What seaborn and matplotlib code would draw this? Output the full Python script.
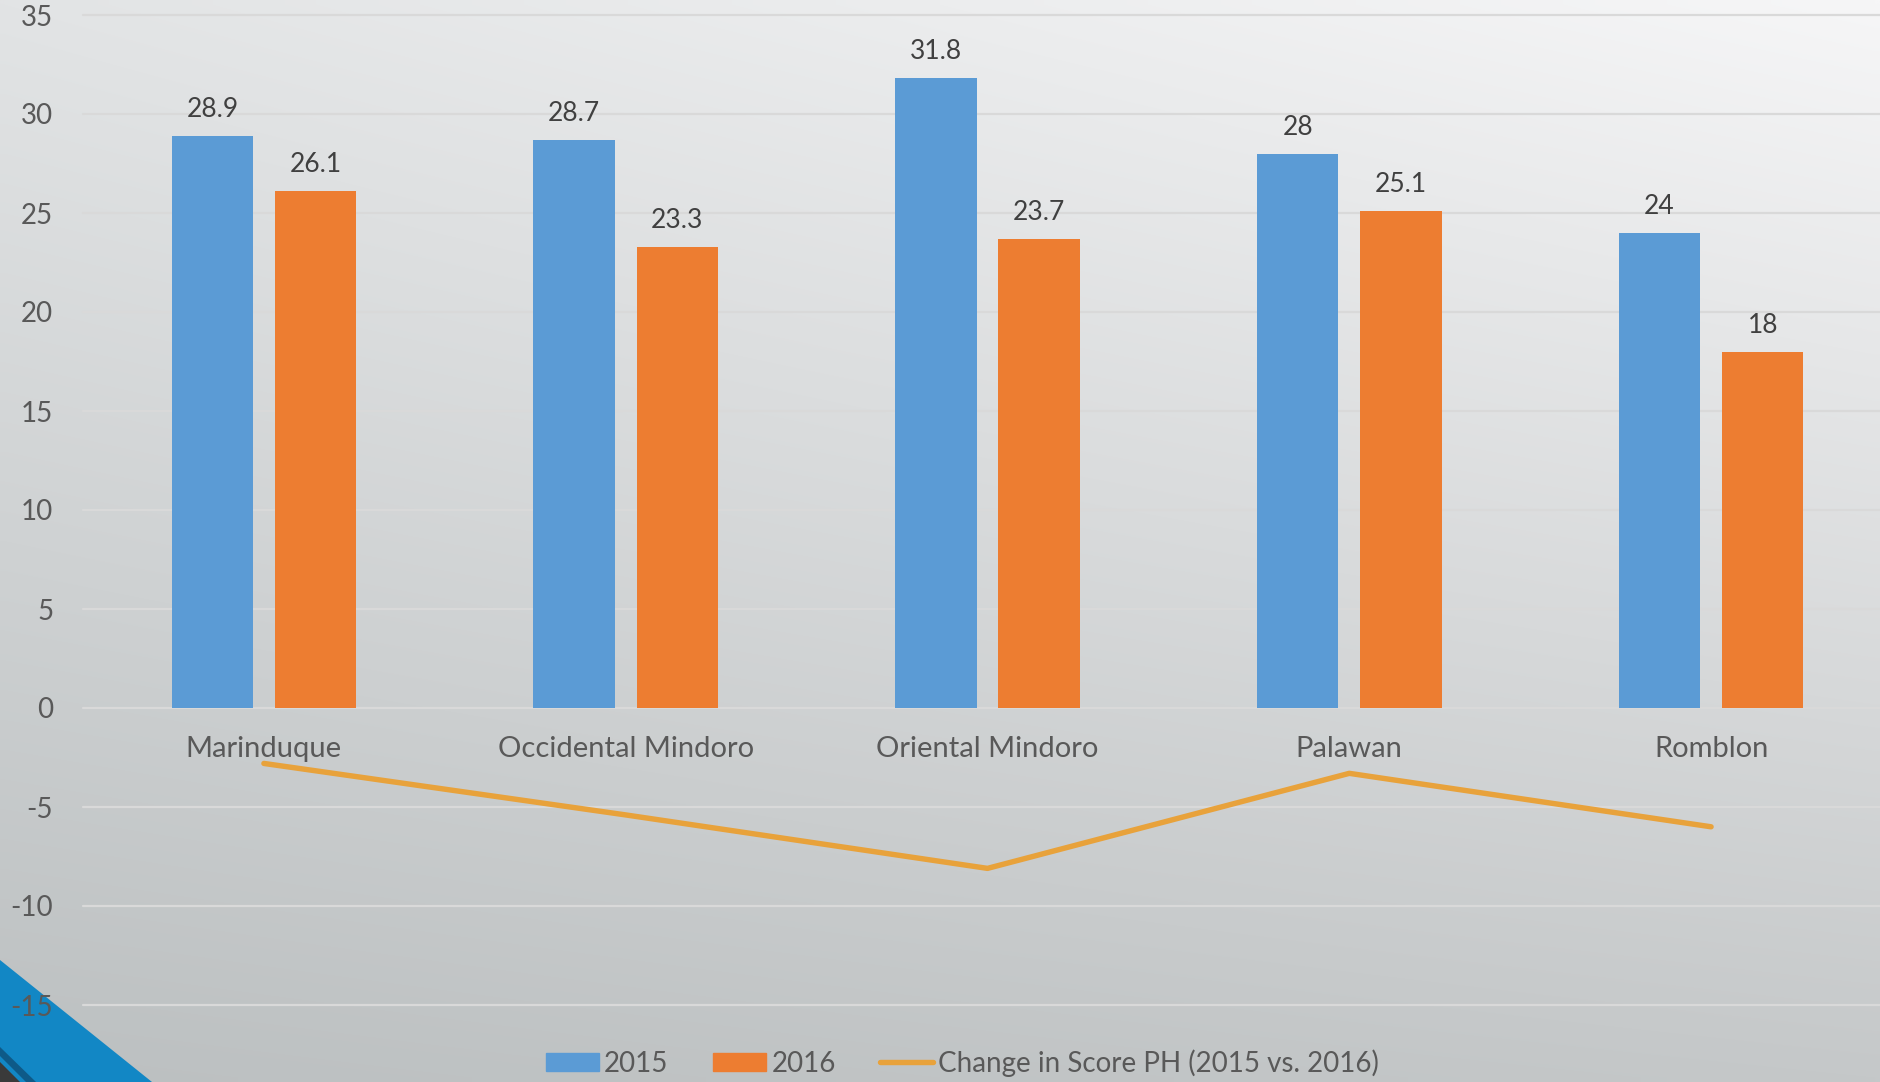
import numpy as np
import pandas as pd
import matplotlib
matplotlib.use("Agg")
import matplotlib.pyplot as plt
import seaborn as sns
from matplotlib.patches import Polygon, Patch
from matplotlib.lines import Line2D

# ---- data ----
regions = ["Marinduque", "Occidental Mindoro", "Oriental Mindoro", "Palawan", "Romblon"]
score_2015 = [28.9, 28.7, 31.8, 28.0, 24.0]
score_2016 = [26.1, 23.3, 23.7, 25.1, 18.0]
change_ph = [-2.8, -5.4, -8.1, -3.3, -6.0]
years = ["2015", "2016"]
line_label = "Change in Score PH (2015 vs. 2016)"
yticks = [-15, -10, -5, 0, 5, 10, 15, 20, 25, 30, 35]

BLUE = "#5B9BD5"
ORANGE = "#ED7D31"
GOLD = "#E8A23B"
TXT = "#595959"
LBL = "#404040"

sns.set_theme(style="white")
plt.rcParams["font.family"] = ["Lato", "DejaVu Sans"]
plt.rcParams["axes.unicode_minus"] = False

W, H = 1880, 1082
fig = plt.figure(figsize=(W / 100, H / 100), dpi=100)

# ---- background gradient + decoration ----
bg = fig.add_axes([0, 0, 1, 1], zorder=-10)
gy, gx = np.mgrid[0:1:120j, 0:1:200j]
tl = np.array([226, 228, 229]); tr = np.array([246, 246, 247])
bl = np.array([188, 192, 193]); br = np.array([197, 200, 201])
grad = ((1 - gx)[..., None] * (1 - gy)[..., None] * tl + gx[..., None] * (1 - gy)[..., None] * tr
        + (1 - gx)[..., None] * gy[..., None] * bl + gx[..., None] * gy[..., None] * br) / 255.0
bg.imshow(grad, aspect="auto", extent=[0, W, H, 0], interpolation="bilinear")
bg.add_patch(Polygon([(0, 960), (152, H), (0, H)], closed=True, color="#1287C5", lw=0))
bg.add_patch(Polygon([(0, 1047), (36, H), (26, H), (0, 1056)], closed=True, color="#0E5A88", lw=0))
bg.add_patch(Polygon([(0, 1062), (20, H), (0, H)], closed=True, color="#3A3A3A", lw=0))
bg.set_xlim(0, W); bg.set_ylim(H, 0)
bg.axis("off")

# ---- main axes (extends slightly past the right edge, as in the reference) ----
ax = fig.add_axes([83 / W, 1 - 1005 / H, 1809 / W, 990 / H])
ax.patch.set_alpha(0)

df = pd.DataFrame({
    "Province": regions * 2,
    "Year": [years[0]] * len(regions) + [years[1]] * len(regions),
    "Score": score_2015 + score_2016,
})
sns.barplot(data=df, x="Province", y="Score", hue="Year", order=regions,
            palette=[BLUE, ORANGE], width=0.57, gap=0.21, saturation=1,
            legend=False, ax=ax, zorder=2, linewidth=0, edgecolor="none")

for cont in ax.containers:
    ax.bar_label(cont, fmt="%g", padding=10, fontsize=19, color=LBL)

sns.lineplot(x=np.arange(len(regions)), y=change_ph, color=GOLD, lw=3.9,
             solid_capstyle="round", ax=ax, zorder=3)

ax.set_xlim(-0.5, len(regions) - 0.5)
ax.set_ylim(-15, 35)
ax.set_yticks(yticks)
ax.set_yticklabels([str(v) for v in yticks])
ax.set_xticks(range(len(regions)))
ax.set_xticklabels(regions)
ax.set_xlabel("")
ax.set_ylabel("")

for s in ax.spines.values():
    s.set_visible(False)
ax.spines["bottom"].set_position(("data", 0))
ax.tick_params(axis="x", length=0, pad=20, labelsize=21, labelcolor=TXT)
ax.tick_params(axis="y", length=0, pad=21.5, labelsize=20, labelcolor=TXT)
ax.yaxis.grid(True, color="#D9D9D9", lw=1.6)
ax.xaxis.grid(False)
ax.set_axisbelow(True)
for gl in ax.get_ygridlines():
    gl.set_clip_on(False)

# ---- legend ----
handles = [Patch(color=BLUE), Patch(color=ORANGE), Line2D([], [], color=GOLD, lw=3.9)]
fig.legend(handles, years + [line_label], loc="center", bbox_to_anchor=(0.512, 1 - 1063 / H),
           ncol=3, frameon=False, fontsize=20, labelcolor=TXT, handlelength=1.9,
           handleheight=0.62, handletextpad=0.2, columnspacing=1.6)

fig.savefig("out.png", dpi=100)
